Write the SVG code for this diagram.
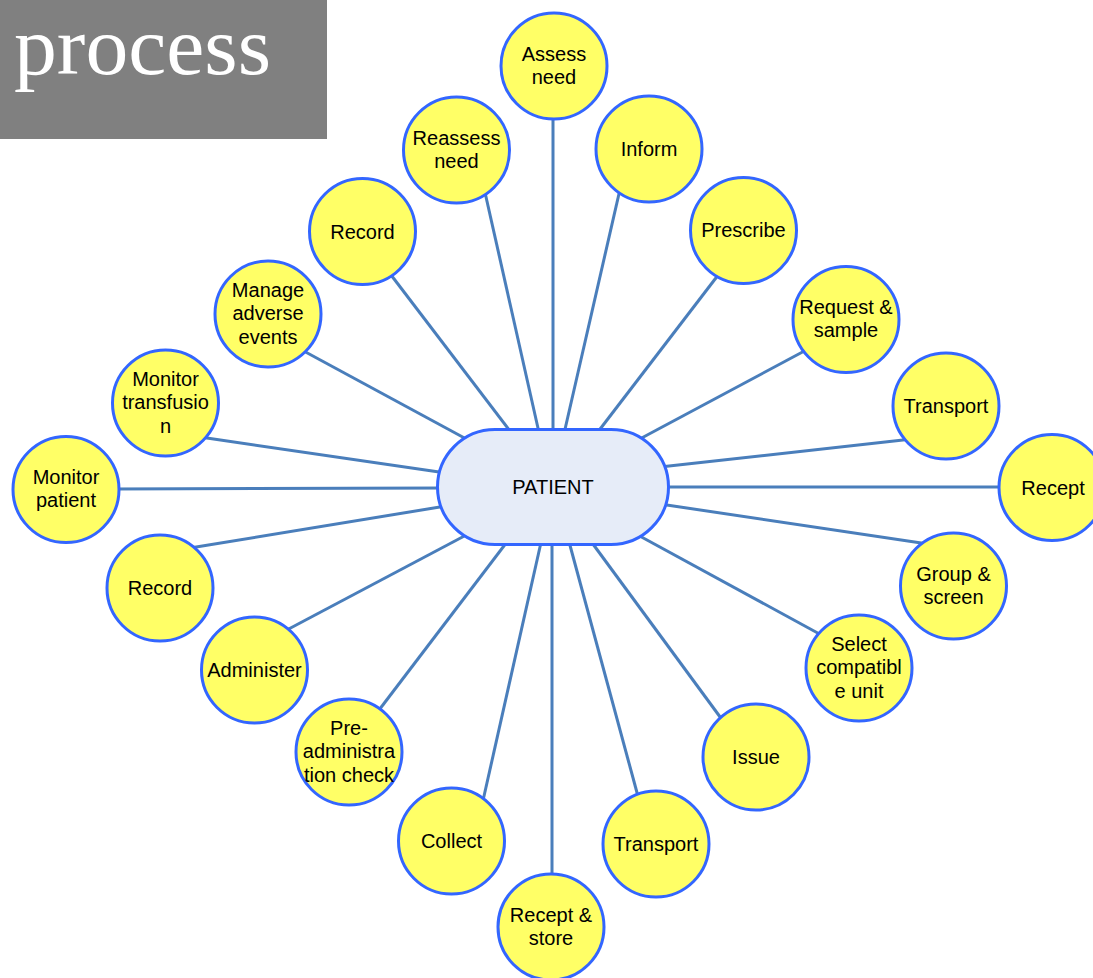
<svg xmlns="http://www.w3.org/2000/svg" width="1093" height="978" viewBox="0 0 1093 978">
<style>
.bg{fill:#ffffff}
.conn line{stroke:#4A7EBB;stroke-width:3;fill:none}
.c{fill:#FFFF66;stroke:#3366FF;stroke-width:3}
.p{fill:#E6ECF8;stroke:#3366FF;stroke-width:3}
.t{font-family:"Liberation Sans",Arial,sans-serif;font-size:20px;fill:#000;text-anchor:middle}
.title{font-family:"Liberation Serif","Times New Roman",serif;font-size:83px;fill:#ffffff}
</style>
<rect class="bg" x="0" y="0" width="1093" height="978"/>
<g id="title">
<rect x="0" y="0" width="327" height="139" fill="#808080"/>
<text class="title" x="14" y="74" textLength="257" lengthAdjust="spacingAndGlyphs">process</text>
</g>
<g id="connectors" class="conn">
<line x1="553" y1="110" x2="553" y2="440"/>
<line x1="621" y1="185" x2="563" y2="438"/>
<line x1="722" y1="270" x2="594" y2="437"/>
<line x1="810" y1="348" x2="636" y2="441"/>
<line x1="912" y1="439" x2="660" y2="467"/>
<line x1="1005" y1="487" x2="660" y2="487"/>
<line x1="928" y1="544" x2="660" y2="504"/>
<line x1="825" y1="637" x2="636" y2="534"/>
<line x1="726" y1="725" x2="590" y2="540"/>
<line x1="639" y1="800" x2="568" y2="538"/>
<line x1="552" y1="880" x2="552" y2="540"/>
<line x1="482" y1="805" x2="542" y2="538"/>
<line x1="376" y1="714" x2="510" y2="538"/>
<line x1="283" y1="632" x2="470" y2="533"/>
<line x1="190" y1="548" x2="446" y2="506"/>
<line x1="112" y1="489" x2="446" y2="488"/>
<line x1="200" y1="437" x2="446" y2="473"/>
<line x1="300" y1="349" x2="470" y2="441"/>
<line x1="388" y1="271" x2="513" y2="435"/>
<line x1="484" y1="188" x2="540" y2="437"/>
</g>
<g id="patient">
<rect class="p" x="437.5" y="429.5" width="231" height="115" rx="57.5" ry="57.5"/>
<text class="t" x="553" y="494">PATIENT</text>
</g>
<g id="assess-need">
<circle class="c" cx="554" cy="66" r="53"/>
<text class="t" x="554" y="60.5">Assess</text><text class="t" x="554" y="83.5">need</text>
</g>
<g id="inform">
<circle class="c" cx="649" cy="149" r="53"/>
<text class="t" x="649" y="156">Inform</text>
</g>
<g id="prescribe">
<circle class="c" cx="743.5" cy="230.5" r="53"/>
<text class="t" x="743.5" y="237">Prescribe</text>
</g>
<g id="request-sample">
<circle class="c" cx="846" cy="319.5" r="53"/>
<text class="t" x="846" y="314">Request &amp;</text><text class="t" x="846" y="337">sample</text>
</g>
<g id="transport-1">
<circle class="c" cx="946" cy="406" r="53"/>
<text class="t" x="946" y="413">Transport</text>
</g>
<g id="recept">
<circle class="c" cx="1052" cy="487.5" r="53"/>
<text class="t" x="1053" y="494.5">Recept</text>
</g>
<g id="group-screen">
<circle class="c" cx="953.5" cy="586" r="53"/>
<text class="t" x="953.5" y="580.5">Group &amp;</text><text class="t" x="953.5" y="603.5">screen</text>
</g>
<g id="select-compatible-unit">
<circle class="c" cx="859" cy="668" r="53"/>
<text class="t" x="859" y="650.5">Select</text><text class="t" x="859" y="674">compatibl</text><text class="t" x="859" y="698">e unit</text>
</g>
<g id="issue">
<circle class="c" cx="756" cy="757" r="53"/>
<text class="t" x="756" y="764">Issue</text>
</g>
<g id="transport-2">
<circle class="c" cx="656" cy="844" r="53"/>
<text class="t" x="656" y="851">Transport</text>
</g>
<g id="recept-store">
<circle class="c" cx="551" cy="927" r="53"/>
<text class="t" x="551" y="921.5">Recept &amp;</text><text class="t" x="551" y="944.5">store</text>
</g>
<g id="collect">
<circle class="c" cx="451.5" cy="841" r="53"/>
<text class="t" x="451.5" y="848">Collect</text>
</g>
<g id="pre-administration-check">
<circle class="c" cx="349" cy="752" r="53"/>
<text class="t" x="349" y="734.5">Pre-</text><text class="t" x="349" y="758">administra</text><text class="t" x="349" y="782">tion check</text>
</g>
<g id="administer">
<circle class="c" cx="254.5" cy="670" r="53"/>
<text class="t" x="254.5" y="677">Administer</text>
</g>
<g id="record-1">
<circle class="c" cx="160" cy="588" r="53"/>
<text class="t" x="160" y="595">Record</text>
</g>
<g id="monitor-patient">
<circle class="c" cx="66" cy="489.5" r="53"/>
<text class="t" x="66" y="484">Monitor</text><text class="t" x="66" y="507">patient</text>
</g>
<g id="monitor-transfusion">
<circle class="c" cx="165.5" cy="403" r="53"/>
<text class="t" x="165.5" y="385.5">Monitor</text><text class="t" x="165.5" y="409">transfusio</text><text class="t" x="165.5" y="433">n</text>
</g>
<g id="manage-adverse-events">
<circle class="c" cx="268" cy="314" r="53"/>
<text class="t" x="268" y="296.5">Manage</text><text class="t" x="268" y="320">adverse</text><text class="t" x="268" y="344">events</text>
</g>
<g id="record-2">
<circle class="c" cx="362.5" cy="231.5" r="53"/>
<text class="t" x="362.5" y="238.5">Record</text>
</g>
<g id="reassess-need">
<circle class="c" cx="456.5" cy="150" r="53"/>
<text class="t" x="456.5" y="144.5">Reassess</text><text class="t" x="456.5" y="167.5">need</text>
</g>
</svg>
